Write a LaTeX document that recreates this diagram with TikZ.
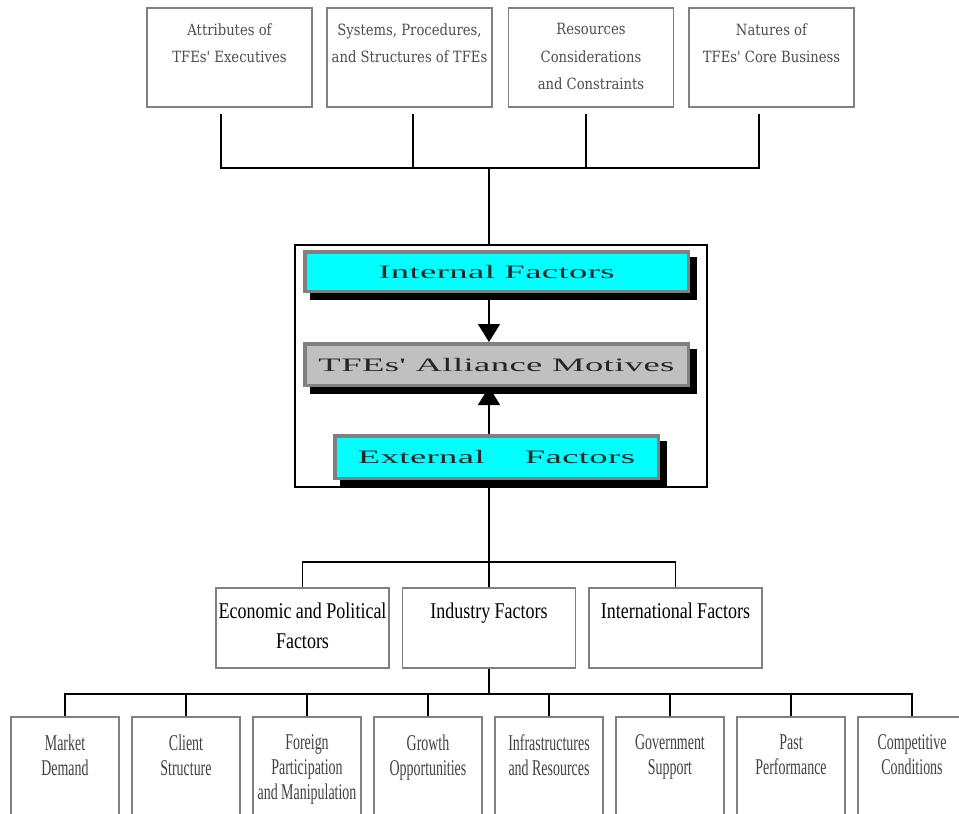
\documentclass[tikz,border=0pt]{standalone}
\usepackage{fontspec}
\setmainfont{Liberation Serif}
\newfontfamily\slabfont[FakeStretch=0.85]{DejaVu Serif}
\newfontfamily\narrowfont[FakeStretch=0.8]{Liberation Serif}
\newfontfamily\thinfont[FakeStretch=0.62]{Liberation Serif}
\newfontfamily\widefont[FakeStretch=1.93,LetterSpace=2]{Liberation Serif}
\usetikzlibrary{positioning,arrows.meta,shadows}
\definecolor{silverfill}{RGB}{192,192,192}
\definecolor{aquafill}{RGB}{0,255,255}

\begin{document}
\begin{tikzpicture}[
    x = 1pt, y = -1pt,
    > = {Triangle[width=22pt,length=18pt]},
    wire/.style = {draw, line width=1.6pt},
    attrbox/.style = {draw=gray, line width=1.4pt, inner sep=0pt,
        minimum width=165pt, minimum height=99pt, text=black!70,
        font={\slabfont\fontsize{15.5pt}{27.5pt}\selectfont},
        execute at begin node={\begin{minipage}[c][68pt][t]{165pt}\centering},
        execute at end node={\end{minipage}}},
    groupbox/.style = {draw=gray, line width=1.4pt, inner sep=0pt,
        minimum width=173pt, minimum height=80pt,
        font={\narrowfont\fontsize{22.5pt}{30pt}\selectfont},
        execute at begin node={\begin{minipage}[c][50pt][t]{173pt}\centering},
        execute at end node={\end{minipage}}},
    itembox/.style = {draw=gray, line width=1.4pt, inner sep=0pt,
        minimum width=108pt, minimum height=120pt, text=black!75,
        font={\thinfont\fontsize{22.5pt}{25pt}\selectfont},
        execute at begin node={\begin{minipage}[c][84pt][t]{108pt}\centering},
        execute at end node={\end{minipage}}},
    corebox/.style = {draw=gray, line width=3.5pt, inner sep=0pt, text=black!85,
        font={\widefont\fontsize{19pt}{20pt}\selectfont},
        drop shadow={shadow xshift=7pt, shadow yshift=-7pt,
            fill=black, draw=black, opacity=1}},
    frame/.style = {draw, line width=1.3pt, minimum width=412pt, minimum height=242pt}
]
    \useasboundingbox (0,0) rectangle (959,814);
    \clip (0,0) rectangle (959,814);

    % internal side
    \node[attrbox] (attr) at (229.5,57.5) {Attributes of\\TFEs' Executives};
    \node[attrbox] (sys) at (409.5,57.5) {Systems, Procedures,\\and Structures of TFEs};
    \node[attrbox] (res) at (591,57.5) {Resources\\Considerations\\and Constraints};
    \node[attrbox] (nat) at (771.5,57.5) {Natures of\\TFEs' Core Business};

    \coordinate (topbus) at (489,168);
    \draw[wire] ([xshift=-8.5pt,yshift=-6pt]attr.south) |- (topbus);
    \draw[wire] ([xshift=3.5pt,yshift=-6pt]sys.south) |- (topbus);
    \draw[wire] ([xshift=-5pt,yshift=-6pt]res.south) |- (topbus);
    \draw[wire] ([xshift=-12.5pt,yshift=-6pt]nat.south) |- (topbus);

    % the motives
    \node[frame] (core) at (501,366) {};
    \node[corebox, fill=aquafill, minimum width=383.5pt, minimum height=39.5pt]
        (intf) at (496.5,271.5) {Internal Factors};
    \node[corebox, fill=silverfill, minimum width=383.5pt, minimum height=41.5pt]
        (motive) at (496.5,364.5) {TFEs' Alliance Motives};
    \node[corebox, fill=aquafill, minimum width=323.5pt, minimum height=42.5pt]
        (extf) at (496.5,457) {External\hspace{40pt}Factors};

    \draw[wire] (topbus) -- (topbus |- core.north);
    \draw[wire,->] (intf.south -| topbus) -- (motive.north -| topbus);
    \draw[wire,->] (extf.north -| topbus) -- (motive.south -| topbus);

    % external side
    \node[groupbox] (econ) at (302.5,628) {Economic and Political\\Factors};
    \node[groupbox] (indus) at (489,628) {Industry Factors};
    \node[groupbox] (intl) at (675.5,628) {International Factors};

    \coordinate (midbus) at (489,562);
    \draw[wire] (extf.south -| topbus) -- (midbus);
    \draw[wire] (econ.north) |- (midbus);
    \draw[wire] (indus.north) -- (midbus);
    \draw[wire] (intl.north) |- (midbus);

    \node[itembox] (demand) at (65,777) {Market\\Demand};
    \node[itembox] (client) at (186,777) {Client\\Structure};
    \node[itembox] (foreign) at (307,777) {Foreign\\Participation\\and Manipulation};
    \node[itembox] (growth) at (428,777) {Growth\\Opportunities};
    \node[itembox] (infra) at (549,777) {Infrastructures\\and Resources};
    \node[itembox] (govt) at (670,777) {Government\\Support};
    \node[itembox] (past) at (791,777) {Past\\Performance};
    \node[itembox] (compet) at (912,777) {Competitive\\Conditions};

    \coordinate (lowbus) at (489,694);
    \draw[wire] (indus.south) -- (lowbus);
    \draw[wire] (demand.north) |- (lowbus);
    \draw[wire] (client.north) |- (lowbus);
    \draw[wire] (foreign.north) |- (lowbus);
    \draw[wire] (growth.north) |- (lowbus);
    \draw[wire] (infra.north) |- (lowbus);
    \draw[wire] (govt.north) |- (lowbus);
    \draw[wire] (past.north) |- (lowbus);
    \draw[wire] (compet.north) |- (lowbus);
\end{tikzpicture}
\end{document}
